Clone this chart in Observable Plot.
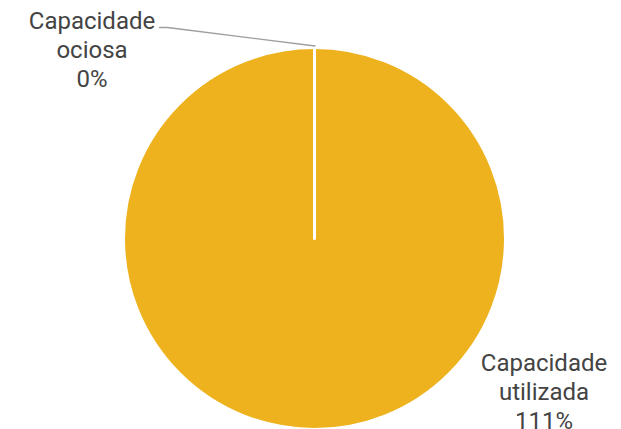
<!DOCTYPE html>
<html><head><meta charset="utf-8">
<script src="https://cdn.jsdelivr.net/npm/d3@7"></script>
<script src="https://cdn.jsdelivr.net/npm/@observablehq/plot@0.6"></script>
<style>html,body{margin:0;background:#fff;} svg{display:block;}</style>
</head><body><div id="chart"></div>
<script>
// ---- data ----
const categories = ["Capacidade utilizada", "Capacidade ociosa"];
const values = [111, 0];
const labelLines = [["Capacidade", "utilizada", "111%"], ["Capacidade", "ociosa", "0%"]];
const colors = ["#EDB21E", "#4472C4"];

// ---- layout ----
const W = 621, H = 429, cx = 314.5, cy = 238.5, R = 191;
const labelPos = [{x: 543.5, y: 390.5}, {x: 91.5, y: 48.5}];
const leaderStart = {x: 159, y: 27};

const data = categories.map((c, i) => ({category: c, value: values[i], text: labelLines[i].join("\n"), ...labelPos[i]}));
const arcs = d3.pie().sort(null).value(d => d.value)(data);
const colorScale = Plot.scale({color: {type: "ordinal", domain: categories, range: colors}});

// leader line for the small slice, from label to just outside the slice's edge
const small = arcs[1];
const a = (small.startAngle + small.endAngle) / 2;
const edge = {x: cx + (R + 2) * Math.sin(a), y: cy - (R + 2) * Math.cos(a)};
const leader = [leaderStart, {x: leaderStart.x + 8, y: leaderStart.y}, edge];

function pieMark(index, scales, vals, dims) {
  const g = d3.create("svg:g").attr("transform", `translate(${scales.x(cx)},${scales.y(cy)})`);
  const arc = d3.arc().innerRadius(0).outerRadius(R);
  g.selectAll("path").data(arcs).join("path")
    .attr("d", arc)
    .attr("fill", d => colorScale.apply(d.data.category))
    .attr("stroke", "#fff")
    .attr("stroke-width", 3)
    .attr("stroke-linejoin", "round");
  return g.node();
}

const chart = Plot.plot({
  width: W, height: H, margin: 0,
  style: {background: "#fff"},
  x: {domain: [0, W], range: [0, W], axis: null},
  y: {domain: [0, H], range: [0, H], axis: null},
  marks: [
    pieMark,
    Plot.line(leader, {x: "x", y: "y", stroke: "#9e9e9e", strokeWidth: 1.3}),
    Plot.text(data, {x: "x", y: "y", text: "text", fill: "#444", fontSize: 24, lineHeight: 1.21,
      fontFamily: "Roboto", textAnchor: "middle", lineAnchor: "middle"})
  ]
});
document.getElementById("chart").appendChild(chart);
</script>
</body></html>
